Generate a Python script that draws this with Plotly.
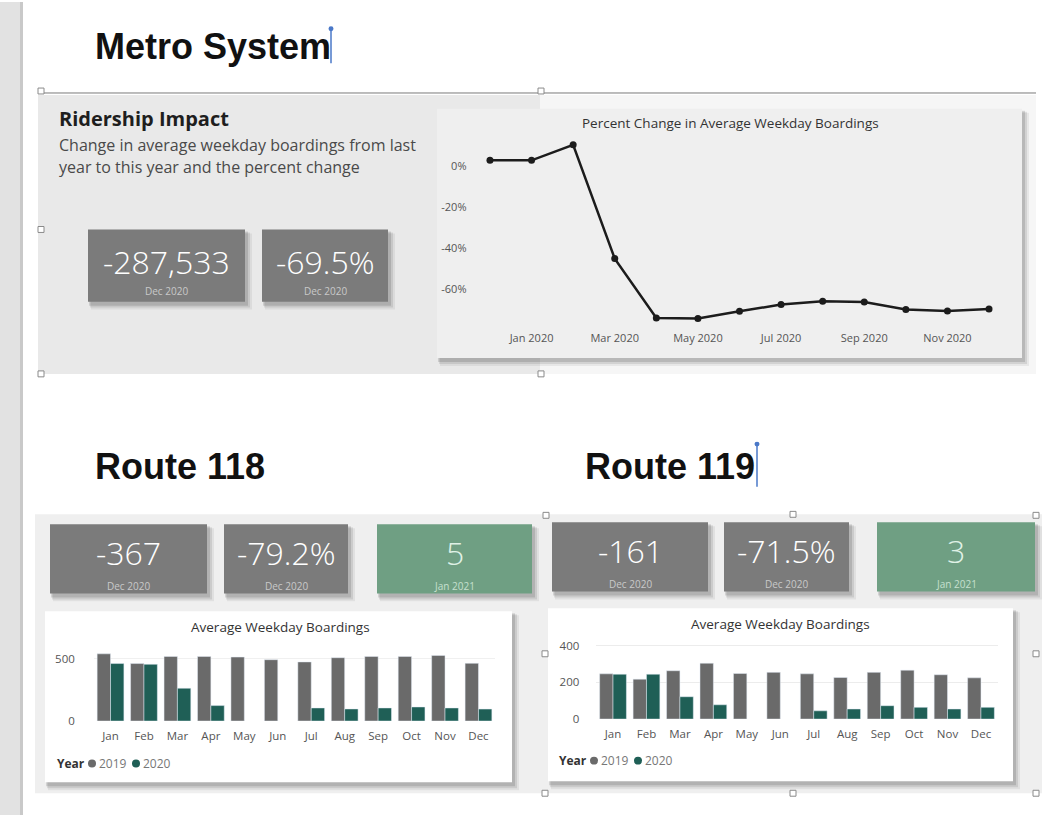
import plotly.graph_objects as go

W, H = 1042, 822


def X(px):
    return px / W


def Y(py):
    return 1 - py / H


# ---------------- data ----------------
line_months = ["Dec 2019", "Jan 2020", "Feb 2020", "Mar 2020", "Apr 2020", "May 2020",
               "Jun 2020", "Jul 2020", "Aug 2020", "Sep 2020", "Oct 2020", "Nov 2020", "Dec 2020"]
line_pct = [2.7, 2.7, 10.2, -45.0, -73.8, -74.1, -70.6, -67.3, -65.7, -66.1, -69.7, -70.4, -69.5]
line_tick_labels = ["Jan 2020", "Mar 2020", "May 2020", "Jul 2020", "Sep 2020", "Nov 2020"]
pct_ticks = [0, -20, -40, -60]
pct_tick_labels = ["0%", "-20%", "-40%", "-60%"]

months = ["Jan", "Feb", "Mar", "Apr", "May", "Jun", "Jul", "Aug", "Sep", "Oct", "Nov", "Dec"]
r118_2019 = [539, 461, 518, 518, 513, 492, 474, 508, 518, 518, 526, 463]
r118_2020 = [461, 455, 263, 124, None, None, 105, 97, 105, 113, 105, 96]
r119_2019 = [247, 218, 264, 305, 249, 255, 247, 227, 255, 267, 242, 225]
r119_2020 = [245, 245, 122, 78, None, None, 45, 55, 73, 64, 55, 64]

years = ["2019", "2020"]

system_kpi_values = ["-287,533", "-69.5%"]
system_kpi_dates = ["Dec 2020", "Dec 2020"]
r118_kpi_values = ["-367", "-79.2%", "5"]
r118_kpi_dates = ["Dec 2020", "Dec 2020", "Jan 2021"]
r119_kpi_values = ["-161", "-71.5%", "3"]
r119_kpi_dates = ["Dec 2020", "Dec 2020", "Jan 2021"]

C2019 = "#6a6a6a"
C2020 = "#1f5f56"
GREY_CARD = "#7b7b7b"
GREEN_CARD = "#6f9f83"
FONT = "Open Sans"

shapes = []
annotations = []


def rect(x0, y0, x1, y1, fill, line=None, lw=0, layer="below"):
    shapes.append(dict(type="rect", xref="paper", yref="paper",
                       x0=X(x0), x1=X(x1), y0=Y(y1), y1=Y(y0),
                       fillcolor=fill, line=dict(color=line or fill, width=lw), layer=layer))


def dot(x, y, r, color):
    shapes.append(dict(type="circle", xref="paper", yref="paper", x0=X(x - r), x1=X(x + r),
                       y0=Y(y + r), y1=Y(y - r), fillcolor=color,
                       line=dict(color=color, width=0), layer="above"))


def card(x0, y0, x1, y1, fill, shadow=True):
    if shadow:
        rect(x0 + 3, y0 + 4, x1 + 7, y1 + 8, "rgba(0,0,0,0.06)")
        rect(x0 + 2, y0 + 3, x1 + 5, y1 + 6, "rgba(0,0,0,0.09)")
        rect(x0 + 1, y0 + 2, x1 + 3, y1 + 4, "rgba(0,0,0,0.12)")
    rect(x0, y0, x1, y1, fill)


def text(x, y, s, size, color="#222", family=FONT, xanchor="left", yanchor="middle", weight=None):
    f = dict(size=size, color=color, family=family)
    if weight:
        f["weight"] = weight
    annotations.append(dict(x=X(x), y=Y(y), xref="paper", yref="paper", text=s,
                            showarrow=False, xanchor=xanchor, yanchor=yanchor,
                            align="left", font=f))


def handle(x, y):
    shapes.append(dict(type="rect", xref="paper", yref="paper",
                       x0=X(x - 3), x1=X(x + 3), y0=Y(y + 3), y1=Y(y - 3),
                       fillcolor="white", line=dict(color="#8a8a8a", width=1), layer="above"))


def cursor(x, y0, y1):
    shapes.append(dict(type="line", xref="paper", yref="paper", x0=X(x), x1=X(x),
                       y0=Y(y1), y1=Y(y0), line=dict(color="#4a78c8", width=1.5), layer="above"))
    dot(x, y0, 2.5, "#4a78c8")


def kpis(cards, values, dates, val_y, date_y):
    for (x0, y0, x1, y1, fill), v, d in zip(cards, values, dates):
        card(x0, y0, x1, y1, fill)
        cx = (x0 + x1) / 2
        vcol = "#ffffff" if fill == GREY_CARD else "#dff1e6"
        dcol = "#c9c9c9" if fill == GREY_CARD else "#c6e0cf"
        text(cx, val_y, v, 32, vcol, xanchor="center", weight=300)
        text(cx, date_y, d, 10, dcol, xanchor="center")


def year_legend(x, y):
    text(x, y, "<b>Year</b>", 12, "#333")
    for i, (yr, col) in enumerate(zip(years, [C2019, C2020])):
        dx = x + 37 + i * 44
        dot(dx, y, 4, col)
        text(dx + 5, y, yr, 12, "#777")


# ---------------- page background ----------------
rect(0, 0, 20, 822, "#e2e2e2")
rect(20, 0, 23, 822, "#c9c9c9")

text(93, 45, "<b>Metro System</b>", 36, "#111", family="Liberation Sans")
cursor(331, 27, 62)

shapes.append(dict(type="line", xref="paper", yref="paper", x0=X(38), x1=X(1036),
                   y0=Y(92), y1=Y(92), line=dict(color="#7a7a7a", width=1)))

# Ridership panel
rect(38, 94, 540, 376, "#e9e9e9")
rect(540, 94, 1036, 376, "#f6f6f6")
text(57, 118, "<b>Ridership Impact</b>", 20, "#1e1e1e")
text(57, 145, "Change in average weekday boardings from last", 16, "#4a4a4a")
text(57, 167, "year to this year and the percent change", 16, "#4a4a4a")

kpis([(88, 230, 245, 303, GREY_CARD), (262, 230, 388, 303, GREY_CARD)],
     system_kpi_values, system_kpi_dates, 262, 292)

# line chart card
card(437, 108, 1022, 360, "#efefef")
text(730, 122, "Percent Change in Average Weekday Boardings", 13.5, "#333", xanchor="center")

# Route sections
text(93, 470, "<b>Route 118</b>", 36, "#111", family="Liberation Sans")
text(583, 470, "<b>Route 119</b>", 36, "#111", family="Liberation Sans")
cursor(757, 447, 490)

rect(35, 518, 540, 800, "#efefef")
rect(540, 518, 1042, 800, "#efefef")

kpis([(50, 528, 207, 598, GREY_CARD), (224, 528, 348, 598, GREY_CARD),
      (377, 528, 532, 598, GREEN_CARD)], r118_kpi_values, r118_kpi_dates, 557, 590)
kpis([(552, 526, 708, 596, GREY_CARD), (724, 526, 849, 596, GREY_CARD),
      (877, 526, 1035, 596, GREEN_CARD)], r119_kpi_values, r119_kpi_dates, 555, 588)

card(45, 616, 512, 789, "#ffffff")
card(548, 613, 1013, 788, "#ffffff")
text(280, 632, "Average Weekday Boardings", 13.5, "#333", xanchor="center")
text(780, 629, "Average Weekday Boardings", 13.5, "#333", xanchor="center")

year_legend(55, 770)
year_legend(557, 767)

for hx, hy in [(41, 90), (541, 90), (41, 230), (41, 376), (541, 376),
               (546, 519), (793, 518), (1036, 519), (545, 659), (1036, 659),
               (545, 800), (793, 800), (1036, 800)]:
    handle(hx, hy)

# ---------------- traces ----------------
fig = go.Figure()

fig.add_trace(go.Scatter(x=line_months, y=line_pct, mode="lines+markers",
                         line=dict(color="#1c1c1c", width=2.5),
                         marker=dict(color="#1c1c1c", size=7),
                         xaxis="x", yaxis="y", showlegend=False))

fig.add_trace(go.Bar(x=months, y=r118_2019, marker_color=C2019, name=years[0],
                     xaxis="x2", yaxis="y2", showlegend=False, offsetgroup="a"))
fig.add_trace(go.Bar(x=months, y=r118_2020, marker_color=C2020, name=years[1],
                     xaxis="x2", yaxis="y2", showlegend=False, offsetgroup="b"))
fig.add_trace(go.Bar(x=months, y=r119_2019, marker_color=C2019, name=years[0],
                     xaxis="x3", yaxis="y3", showlegend=False, offsetgroup="a"))
fig.add_trace(go.Bar(x=months, y=r119_2020, marker_color=C2020, name=years[1],
                     xaxis="x3", yaxis="y3", showlegend=False, offsetgroup="b"))

tickfont = dict(family=FONT, size=11.5, color="#555")

fig.update_layout(
    width=W, height=H, autosize=False,
    margin=dict(l=0, r=0, t=0, b=0),
    paper_bgcolor="white", plot_bgcolor="rgba(0,0,0,0)",
    barmode="group", bargap=0.2, bargroupgap=0.0,
    shapes=shapes, annotations=annotations,
    xaxis=dict(domain=[X(477.5), X(1001.5)], type="category", range=[-0.3, 12.3],
               tickvals=line_tick_labels, ticktext=line_tick_labels,
               showgrid=False, zeroline=False, showline=False, ticks="",
               tickfont=dict(family=FONT, size=11, color="#555"),
               ticklabelstandoff=3, anchor="y", fixedrange=True),
    yaxis=dict(domain=[Y(328.2), Y(138.6)], range=[-78, 13],
               tickvals=pct_ticks, ticktext=pct_tick_labels,
               showgrid=False, zeroline=False, showline=False, ticks="",
               tickfont=dict(family=FONT, size=11, color="#555"),
               ticklabelstandoff=10, anchor="x", fixedrange=True),
    xaxis2=dict(domain=[X(93.8), X(495.2)], type="category", range=[-0.5, 11.5],
                showgrid=False, zeroline=False, showline=False, ticks="",
                tickfont=tickfont, ticklabelstandoff=6, anchor="y2"),
    yaxis2=dict(domain=[Y(727), Y(656.4)], range=[0, 560], tickvals=[0, 500],
                showgrid=True, gridcolor="#f0f0f0", zeroline=False, showline=False, ticks="",
                tickfont=tickfont, ticklabelstandoff=18, anchor="x2"),
    xaxis3=dict(domain=[X(596.3), X(997.7)], type="category", range=[-0.5, 11.5],
                showgrid=False, zeroline=False, showline=False, ticks="",
                tickfont=tickfont, ticklabelstandoff=6, anchor="y3"),
    yaxis3=dict(domain=[Y(725), Y(645.4)], range=[0, 430], tickvals=[0, 200, 400],
                showgrid=True, gridcolor="#ececec", zeroline=False, showline=False, ticks="",
                tickfont=tickfont, ticklabelstandoff=16, anchor="x3"),
)

fig.write_html("out.html", post_script="document.body.style.margin='0';",
               config={"displayModeBar": False})
